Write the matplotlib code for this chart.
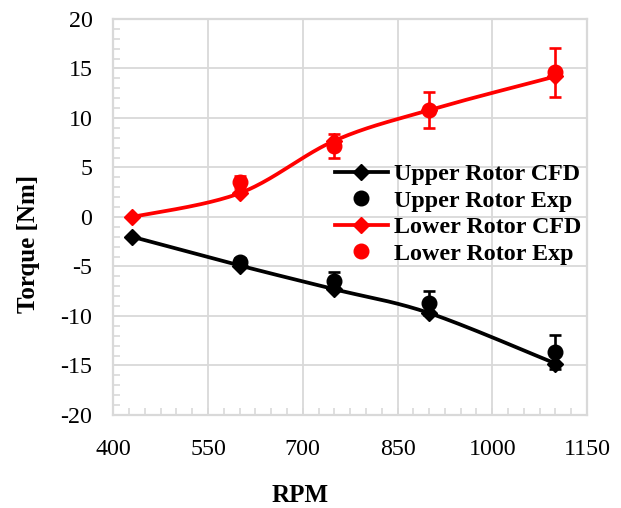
import numpy as np
import matplotlib
matplotlib.use("Agg")
import matplotlib.pyplot as plt
from matplotlib.ticker import MultipleLocator
from matplotlib.lines import Line2D

# --- data -------------------------------------------------------------
rpm_cfd = [430, 600, 750, 900, 1100]
upper_cfd = [-2.0, -4.9, -7.3, -9.7, -14.8]
lower_cfd = [0.0, 2.4, 7.7, 10.8, 14.2]

rpm_exp = [600, 750, 900, 1100]
upper_exp = [-4.5, -6.5, -8.65, -13.65]
upper_err = [0.4, 0.9, 1.2, 1.75]
lower_exp = [3.5, 7.2, 10.8, 14.6]
lower_err = [0.6, 1.2, 1.8, 2.45]

x_ticks = [400, 550, 700, 850, 1000, 1150]
y_ticks = [-20, -15, -10, -5, 0, 5, 10, 15, 20]

series_names = ["Upper Rotor CFD", "Upper Rotor Exp",
                "Lower Rotor CFD", "Lower Rotor Exp"]


def smooth_curve(xs, ys, n=40):
    """Spreadsheet-style smoothed line: cubic Bezier segments with
    Catmull-Rom control points (end points repeated)."""
    p = np.column_stack([xs, ys]).astype(float)
    p = np.vstack([p[0], p, p[-1]])
    t = np.linspace(0, 1, n)[:, None]
    out = []
    for i in range(1, len(p) - 2):
        p0, p3 = p[i], p[i + 1]
        c1 = p0 + (p[i + 1] - p[i - 1]) / 6.0
        c2 = p3 - (p[i + 2] - p[i]) / 6.0
        seg = ((1 - t) ** 3) * p0 + 3 * ((1 - t) ** 2) * t * c1 \
            + 3 * (1 - t) * t ** 2 * c2 + t ** 3 * p3
        out.append(seg if i == 1 else seg[1:])
    out = np.vstack(out)
    return out[:, 0], out[:, 1]


plt.rcParams["font.family"] = ["Liberation Serif", "DejaVu Serif"]
plt.rcParams["axes.unicode_minus"] = False
FS = 17.3
GRID = "#d9d9d9"

fig = plt.figure(figsize=(6.21, 5.08), dpi=100)
ax = fig.add_axes([0.1825, 0.1831, 0.7627, 0.7795])

ax.set_xlim(400, 1150)
ax.set_ylim(-20, 20)
ax.set_xticks(x_ticks)
ax.set_yticks(y_ticks)
ax.xaxis.set_minor_locator(MultipleLocator(25))
ax.yaxis.set_minor_locator(MultipleLocator(1))
ax.grid(True, which="major", color=GRID, linewidth=1.3, zorder=0)
ax.set_axisbelow(True)
for s in ax.spines.values():
    s.set_color(GRID)
    s.set_linewidth(1.6)
ax.tick_params(which="both", direction="in", color=GRID, width=1.2,
               labelsize=FS, top=False, right=False)
ax.tick_params(which="major", length=5)
ax.tick_params(which="minor", length=5)
ax.tick_params(axis="y", pad=15)
ax.tick_params(axis="x", pad=17)

lw = 2.7
ms_d = 8
ms_o = 10.5
for ys, col in ((upper_cfd, "black"), (lower_cfd, "red")):
    sx, sy = smooth_curve(rpm_cfd, ys)
    ax.plot(sx, sy, color=col, lw=lw, zorder=3, solid_capstyle="round")

ax.plot(rpm_cfd, upper_cfd, ls="none", marker="D", ms=ms_d,
        color="black", zorder=4)
ax.errorbar(rpm_exp, upper_exp, yerr=upper_err, fmt="o", ms=ms_o,
            color="black", ecolor="black", elinewidth=1.9,
            capsize=4.3, capthick=1.9, zorder=5)
ax.plot(rpm_cfd, lower_cfd, ls="none", marker="D", ms=ms_d,
        color="red", zorder=6)
ax.errorbar(rpm_exp, lower_exp, yerr=lower_err, fmt="o", ms=ms_o,
            color="red", ecolor="red", elinewidth=1.9,
            capsize=4.3, capthick=1.9, zorder=7)

handles = [
    Line2D([], [], color="black", lw=lw, marker="D", ms=ms_d),
    Line2D([], [], color="black", ls="none", marker="o", ms=ms_o),
    Line2D([], [], color="red", lw=lw, marker="D", ms=ms_d),
    Line2D([], [], color="red", ls="none", marker="o", ms=ms_o),
]
ax.legend(handles, series_names, loc="upper left",
          bbox_to_anchor=(0.468, 0.635), frameon=False,
          prop={"weight": "bold", "size": FS}, handlelength=2.2,
          handletextpad=0.26, labelspacing=0.19, borderpad=0,
          borderaxespad=0, markerscale=1.0)

fig.text(28 / 621, 1 - 244 / 508, "Torque [Nm]", rotation=90,
         ha="center", va="center", fontsize=18, fontweight="bold")
fig.text(300 / 621, 1 - 495 / 508, "RPM", ha="center", va="center",
         fontsize=18, fontweight="bold")

fig.savefig("out.png", dpi=100)
